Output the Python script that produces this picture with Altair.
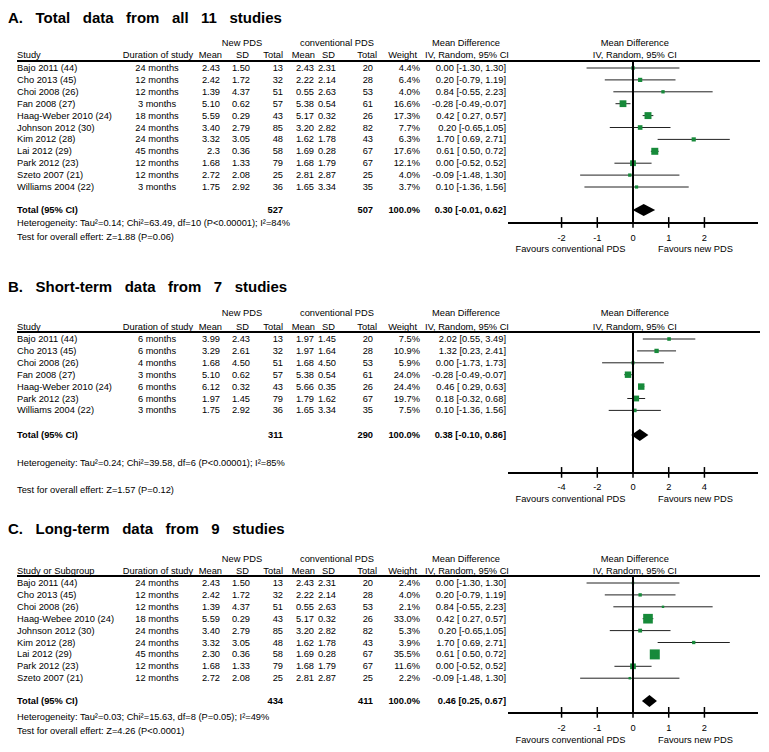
import re
import altair as alt
import pandas as pd

FONT = "Liberation Sans"
FS = 9.3
GREEN = "#178a3a"
STEP = 11.9
NB = " \u00a0\u00a0"

# ---------------- Panel A data ----------------
a_title = NB.join(["A.", "Total", "data", "from", "all", "11", "studies"])
a_study = ["Bajo 2011 (44)", "Cho 2013 (45)", "Choi 2008 (26)", "Fan 2008 (27)",
           "Haag-Weber 2010 (24)", "Johnson 2012 (30)", "Kim 2012 (28)", "Lai 2012 (29)",
           "Park 2012 (23)", "Szeto 2007 (21)", "Williams 2004 (22)"]
a_duration = ["24 months", "12 months", "12 months", "3 months", "18 months", "24 months",
              "24 months", "45 months", "12 months", "12 months", "3 months"]
a_new_mean = ["2.43", "2.42", "1.39", "5.10", "5.59", "3.40", "3.32", "2.3", "1.68", "2.72", "1.75"]
a_new_sd = ["1.50", "1.72", "4.37", "0.62", "0.29", "2.79", "3.05", "0.36", "1.33", "2.08", "2.92"]
a_new_n = [13, 32, 51, 57, 43, 85, 48, 58, 79, 25, 36]
a_conv_mean = ["2.43", "2.22", "0.55", "5.38", "5.17", "3.20", "1.62", "1.69", "1.68", "2.81", "1.65"]
a_conv_sd = ["2.31", "2.14", "2.63", "0.54", "0.32", "2.82", "1.78", "0.28", "1.79", "2.87", "3.34"]
a_conv_n = [20, 28, 53, 61, 26, 82, 43, 67, 67, 25, 35]
a_weight = [4.4, 6.4, 4.0, 16.6, 17.3, 7.7, 6.3, 17.6, 12.1, 4.0, 3.7]
a_ci = ["0.00 [-1.30, 1.30]", "0.20 [-0.79, 1.19]", "0.84 [-0.55, 2.23]", "-0.28 [-0.49,-0.07]",
        "0.42 [ 0.27, 0.57]", "0.20 [-0.65,1.05]", "1.70 [ 0.69, 2.71]", "0.61 [ 0.50, 0.72]",
        "0.00 [-0.52, 0.52]", "-0.09 [-1.48, 1.30]", "0.10 [-1.36, 1.56]"]
a_total = ["527", "507", "100.0%", "0.30 [-0.01, 0.62]"]
a_het = "Heterogeneity: Tau²=0.14; Chi²=63.49, df=10 (P<0.00001); I²=84%"
a_test = "Test for overall effert: Z=1.88 (P=0.06)"
a_ticks = [-2, -1, 0, 1, 2]

# ---------------- Panel B data ----------------
b_title = NB.join(["B.", "Short-term", "data", "from", "7", "studies"])
b_study = ["Bajo 2011 (44)", "Cho 2013 (45)", "Choi 2008 (26)", "Fan 2008 (27)",
           "Haag-Weber 2010 (24)", "Park 2012 (23)", "Williams 2004 (22)"]
b_duration = ["6 months", "6 months", "4 months", "3 months", "6 months", "6 months", "3 months"]
b_new_mean = ["3.99", "3.29", "1.68", "5.10", "6.12", "1.97", "1.75"]
b_new_sd = ["2.43", "2.61", "4.50", "0.62", "0.32", "1.45", "2.92"]
b_new_n = [13, 32, 51, 57, 43, 79, 36]
b_conv_mean = ["1.97", "1.97", "1.68", "5.38", "5.66", "1.79", "1.65"]
b_conv_sd = ["1.45", "1.64", "4.50", "0.54", "0.35", "1.62", "3.34"]
b_conv_n = [20, 28, 53, 61, 26, 67, 35]
b_weight = [7.5, 10.9, 5.9, 24.0, 24.4, 19.7, 7.5]
b_ci = ["2.02 [0.55, 3.49]", "1.32 [0.23, 2.41]", "0.00 [-1.73, 1.73]", "-0.28 [-0.49,-0.07]",
        "0.46 [ 0.29, 0.63]", "0.18 [-0.32, 0.68]", "0.10 [-1.36, 1.56]"]
b_total = ["311", "290", "100.0%", "0.38 [-0.10, 0.86]"]
b_het = "Heterogeneity: Tau²=0.24; Chi²=39.58, df=6 (P<0.00001); I²=85%"
b_test = "Test for overall effert: Z=1.57 (P=0.12)"
b_ticks = [-4, -2, 0, 2, 4]

# ---------------- Panel C data ----------------
c_title = NB.join(["C.", "Long-term", "data", "from", "9", "studies"])
c_study = ["Bajo 2011 (44)", "Cho 2013 (45)", "Choi 2008 (26)", "Haag-Webee 2010 (24)",
           "Johnson 2012 (30)", "Kim 2012 (28)", "Lai 2012 (29)", "Park 2012 (23)", "Szeto 2007 (21)"]
c_duration = ["24 months", "12 months", "12 months", "18 months", "24 months", "24 months",
              "45 months", "12 months", "12 months"]
c_new_mean = ["2.43", "2.42", "1.39", "5.59", "3.40", "3.32", "2.30", "1.68", "2.72"]
c_new_sd = ["1.50", "1.72", "4.37", "0.29", "2.79", "3.05", "0.36", "1.33", "2.08"]
c_new_n = [13, 32, 51, 43, 85, 48, 58, 79, 25]
c_conv_mean = ["2.43", "2.22", "0.55", "5.17", "3.20", "1.62", "1.69", "1.68", "2.81"]
c_conv_sd = ["2.31", "2.14", "2.63", "0.32", "2.82", "1.78", "0.28", "1.79", "2.87"]
c_conv_n = [20, 28, 53, 26, 82, 43, 67, 67, 25]
c_weight = [2.4, 4.0, 2.1, 33.0, 5.3, 3.9, 35.5, 11.6, 2.2]
c_ci = ["0.00 [-1.30, 1.30]", "0.20 [-0.79, 1.19]", "0.84 [-0.55, 2.23]", "0.42 [ 0.27, 0.57]",
        "0.20 [-0.65,1.05]", "1.70 [ 0.69, 2.71]", "0.61 [ 0.50, 0.72]", "0.00 [-0.52, 0.52]",
        "-0.09 [-1.48, 1.30]"]
c_total = ["434", "411", "100.0%", "0.46 [0.25, 0.67]"]
c_het = "Heterogeneity: Tau²=0.03; Chi²=15.63, df=8 (P=0.05); I²=49%"
c_test = "Test for overall effert: Z=4.26 (P<0.0001)"
c_ticks = [-2, -1, 0, 1, 2]

# ---------------- layout (chart px / row units) ----------------
COLS = [(9, "left"), (149, "center"), (212, "right"), (242, "right"), (275, "right"),
        (306, "right"), (328, "right"), (365, "right"), (412, "right"), (498, "right")]
H1 = [("New PDS", 234, "center"), ("conventional PDS", 329, "center"), ("Mean Difference", 458, "center")]
H2 = [(None, 9, "left"), ("Duration of study", 150, "center"), ("Mean", 214, "right"), ("SD", 241, "right"),
      ("Total", 275, "right"), ("Mean", 307, "right"), ("SD", 327, "right"), ("Total", 369, "right"),
      ("Weight", 409, "right"), ("IV, Random, 95% CI", 459, "center")]

PANELS = [
    dict(title=a_title, study=a_study, duration=a_duration, nm=a_new_mean, nsd=a_new_sd, nn=a_new_n,
         cm=a_conv_mean, csd=a_conv_sd, cn=a_conv_n, weight=a_weight, ci=a_ci, total=a_total,
         het=a_het, test=a_test, ticks=a_ticks, head="Study",
         row0=52, dom=3.5, area=49, t_title=-4.22, t_h1=-2.10, t_h2=-1.09, t_line=-0.59,
         t_total=11.93, t_het=13.03, t_test=14.2, t_axis=13.03, t_tick=14.29, t_fav=15.2),
    dict(title=b_title, study=b_study, duration=b_duration, nm=b_new_mean, nsd=b_new_sd, nn=b_new_n,
         cm=b_conv_mean, csd=b_conv_sd, cn=b_conv_n, weight=b_weight, ci=b_ci, total=b_total,
         het=b_het, test=b_test, ticks=b_ticks, head="Study",
         row0=323, dom=7.0, area=42, t_title=-4.37, t_h1=-2.18, t_h2=-1.0, t_line=-0.59,
         t_total=8.07, t_het=10.42, t_test=12.69, t_axis=11.26, t_tick=12.44, t_fav=13.45),
    dict(title=c_title, study=c_study, duration=c_duration, nm=c_new_mean, nsd=c_new_sd, nn=c_new_n,
         cm=c_conv_mean, csd=c_conv_sd, cn=c_conv_n, weight=c_weight, ci=c_ci, total=c_total,
         het=c_het, test=c_test, ticks=c_ticks, head="Study or Subgroup",
         row0=567, dom=3.5, area=100, t_title=-4.54, t_h1=-2.02, t_h2=-1.0, t_line=-0.59,
         t_total=9.92, t_het=11.26, t_test=12.44, t_axis=10.92, t_tick=12.18, t_fav=13.19),
]


def panel_layers(P):
    ys = alt.Scale(domain=[0, 1], range=[P["row0"], P["row0"] + STEP], zero=False, nice=False)
    xs = alt.Scale(domain=[-P["dom"], P["dom"]], range=[500, 750], zero=False, nice=False)

    def Y(f):
        return alt.Y(f, type="quantitative", scale=ys, axis=None)

    def XM(f):
        return alt.X(f, type="quantitative", scale=xs, axis=None)

    XP = alt.X("x:Q", scale=None, axis=None)
    layers = []

    # ----- table text -----
    cells = []
    n = len(P["study"])
    for i in range(n):
        vals = [P["study"][i], P["duration"][i], P["nm"][i], P["nsd"][i], str(P["nn"][i]),
                P["cm"][i], P["csd"][i], str(P["cn"][i]), f"{P['weight'][i]:.1f}%", P["ci"][i]]
        for v, (x, al) in zip(vals, COLS):
            cells.append(dict(x=x, y=i, text=v, align=al, bold=False))
    for t, x, al in H1:
        cells.append(dict(x=x, y=P["t_h1"], text=t, align=al, bold=False))
    for t, x, al in H2:
        cells.append(dict(x=x, y=P["t_h2"], text=t if t else P["head"], align=al, bold=False))
    tot_cols = [COLS[0], COLS[4], COLS[7], COLS[8], COLS[9]]
    for v, (x, al) in zip(["Total (95% CI)"] + P["total"], tot_cols):
        cells.append(dict(x=x, y=P["t_total"], text=v, align=al, bold=True))
    cells.append(dict(x=9, y=P["t_het"], text=P["het"], align="left", bold=False))
    cells.append(dict(x=9, y=P["t_test"], text=P["test"], align="left", bold=False))
    cdf = pd.DataFrame(cells)
    for (al, bd), g in cdf.groupby(["align", "bold"]):
        layers.append(alt.Chart(g).mark_text(align=al, baseline="middle", font=FONT, fontSize=FS,
                                             fontWeight="bold" if bd else "normal", color="black")
                      .encode(x=XP, y=Y("y"), text="text:N"))
    # title
    layers.append(alt.Chart(pd.DataFrame([dict(x=0, y=P["t_title"], text=P["title"])]))
                  .mark_text(align="left", baseline="middle", font=FONT, fontSize=15,
                             fontWeight="bold", color="black")
                  .encode(x=XP, y=Y("y"), text="text:N"))
    # header rule
    layers.append(alt.Chart(pd.DataFrame([dict(x=9, x2=752, y=P["t_line"])]))
                  .mark_rule(color="black", strokeWidth=2)
                  .encode(x=XP, x2="x2:Q", y=Y("y")))

    # ----- forest -----
    parsed = [list(map(float, re.findall(r"-?\d+\.\d+", s))) for s in P["ci"]]
    fdf = pd.DataFrame(dict(row=list(range(n)), md=[p[0] for p in parsed], lo=[p[1] for p in parsed],
                            hi=[p[2] for p in parsed], w=P["weight"]))
    layers.append(alt.Chart(fdf).mark_rule(color="#222222", strokeWidth=1)
                  .encode(x=XM("lo"), x2="hi:Q", y=Y("row")))
    layers.append(alt.Chart(fdf).mark_square(color=GREEN, opacity=1, filled=True)
                  .encode(x=XM("md"), y=Y("row"),
                          size=alt.Size("w:Q", scale=alt.Scale(domain=[0, max(P["weight"])],
                                                               range=[0, P["area"]]), legend=None)))
    est, lo, hi = map(float, re.findall(r"-?\d+\.\d+", P["total"][3]))
    t = P["t_total"]
    ddf = pd.DataFrame([dict(x=lo, y1=t, y2=t), dict(x=est, y1=t - 0.5, y2=t + 0.5), dict(x=hi, y1=t, y2=t)])
    layers.append(alt.Chart(ddf).mark_area(color="black", opacity=1)
                  .encode(x=XM("x"), y=Y("y1"), y2="y2:Q"))
    # zero line
    layers.append(alt.Chart(pd.DataFrame([dict(x=0, y=P["t_line"], y2=P["t_axis"])]))
                  .mark_rule(color="black", strokeWidth=2)
                  .encode(x=XM("x"), y=Y("y"), y2="y2:Q"))
    # axis line
    layers.append(alt.Chart(pd.DataFrame([dict(x=-P["dom"], x2=P["dom"], y=P["t_axis"])]))
                  .mark_rule(color="black", strokeWidth=2)
                  .encode(x=XM("x"), x2="x2:Q", y=Y("y")))
    tdf = pd.DataFrame(dict(x=P["ticks"], y=[P["t_axis"] - 0.5] * len(P["ticks"]),
                            y2=[P["t_axis"] + 0.4] * len(P["ticks"]),
                            yl=[P["t_tick"]] * len(P["ticks"]),
                            text=[str(v) for v in P["ticks"]]))
    layers.append(alt.Chart(tdf).mark_rule(color="black", strokeWidth=1.5)
                  .encode(x=XM("x"), y=Y("y"), y2="y2:Q"))
    layers.append(alt.Chart(tdf).mark_text(align="center", baseline="middle", font=FONT, fontSize=FS,
                                           color="black")
                  .encode(x=XM("x"), y=Y("yl"), text="text:N"))
    fav = pd.DataFrame([dict(x=-P["dom"] / 2, y=P["t_fav"], text="Favours conventional PDS"),
                        dict(x=P["dom"] / 2, y=P["t_fav"], text="Favours new PDS"),
                        dict(x=0.05 * P["dom"] / 3.5, y=P["t_h1"], text="Mean Difference"),
                        dict(x=0.05 * P["dom"] / 3.5, y=P["t_h2"], text="IV, Random, 95% CI")])
    layers.append(alt.Chart(fav).mark_text(align="center", baseline="middle", font=FONT, fontSize=FS,
                                           color="black")
                  .encode(x=XM("x"), y=Y("y"), text="text:N"))
    return layers


all_layers = []
for P in PANELS:
    all_layers += panel_layers(P)

chart = (alt.layer(*all_layers)
         .resolve_scale(x="independent", y="independent", size="independent")
         .properties(width=753, height=728,
                     autosize=alt.AutoSizeParams(type="none"),
                     padding={"left": 0, "top": 8, "right": 0, "bottom": 0})
         .configure_view(stroke=None))

chart.save("out.html", embed_options={"renderer": "svg", "actions": False})
